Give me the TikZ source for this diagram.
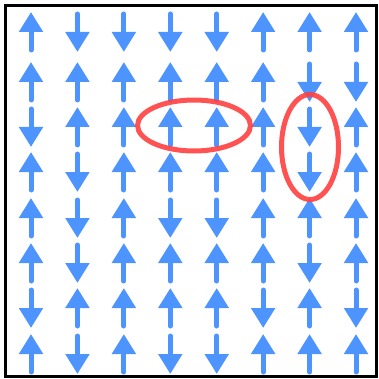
\documentclass[tikz,border=0pt]{standalone}
\usetikzlibrary{arrows.meta}

\definecolor{spinblue}{RGB}{77,148,255}
\definecolor{loopred}{RGB}{255,64,64}

\tikzset{
  spin/.style={spinblue, line width=5pt, line cap=round,
    -{Triangle[length=20pt,width=23pt]}},
  loop/.style={loopred, line width=5pt, draw opacity=0.9}
}

% one row of spins: y of the row, then +1 (up) or -1 (down) for each column
\newcommand{\spinrow}[2]{%
  \foreach \d [count=\c] in {#2} {
    \draw[spin] ({46.43*\c-15.43},{#1+18*\d}) -- ({46.43*\c-15.43},{#1-20*\d});
  }}

\begin{document}
\begin{tikzpicture}[x=1pt,y=-1pt]
\useasboundingbox (0,0) rectangle (378,379);

\draw[line width=3.5pt] (5.5,5.5) rectangle (376.5,376.5);

\spinrow{32}{1,-1,-1,-1,-1,1,1,1}
\spinrow{82}{1,1,1,1,1,1,-1,-1}
\spinrow{127}{-1,1,1,1,1,1,-1,1}
\spinrow{172}{1,-1,1,1,1,1,-1,1}
\spinrow{218}{1,-1,1,-1,-1,1,1,1}
\spinrow{263}{1,-1,1,1,1,1,-1,1}
\spinrow{308}{-1,1,1,1,1,-1,1,-1}
\spinrow{354}{1,-1,1,-1,-1,1,1,1}

\coordinate (E1) at (194,125.5);
\coordinate (E2) at (310,147);

\draw[loop] (E1) ellipse [x radius=56.5, y radius=25.5];
\draw[loop] (E2) ellipse [x radius=28.5, y radius=52.5];
\end{tikzpicture}
\end{document}
